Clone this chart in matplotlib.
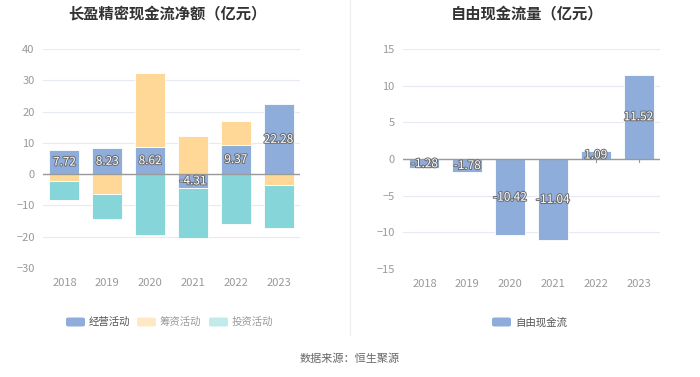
import numpy as np
import matplotlib.pyplot as plt
import matplotlib.patheffects as pe
from matplotlib.patches import FancyBboxPatch

plt.rcParams['font.family'] = ['Noto Sans CJK SC', 'DejaVu Sans']

years = ['2018', '2019', '2020', '2021', '2022', '2023']
operating = [7.72, 8.23, 8.62, -4.31, 9.37, 22.28]
financing = [-2.2, -6.5, 23.7, 12.3, 7.5, -3.4]
investing = [-6.1, -7.7, -19.4, -16.2, -16.0, -13.7]
free_cf = [-1.28, -1.78, -10.42, -11.04, 1.09, 11.52]

c_op = '#8EADDB'
c_fin = '#FFD898'
c_inv = '#86D5D8'
grid_c = '#E6EAF3'
tick_c = '#999999'

fig = plt.figure(figsize=(7, 3.77), dpi=100)
ax1 = fig.add_axes([43 / 700, 1 - 268 / 377, 257 / 700, 219 / 377])
ax2 = fig.add_axes([403 / 700, 1 - 269 / 377, 257 / 700, 220 / 377])

label_fx = [pe.withStroke(linewidth=1.4, foreground='#6A6A6A')]


def style(ax, ticks):
    ax.set_yticks(ticks)
    ax.set_ylim(ticks[0], ticks[-1])
    ax.set_xlim(-0.5, len(years) - 0.5)
    for t in ticks:
        ax.axhline(t, color=grid_c, lw=0.8, zorder=0)
    ax.axhline(0, color='#9A9A9A', lw=1.0, zorder=3)
    for s in ax.spines.values():
        s.set_visible(False)
    ax.tick_params(length=0, colors=tick_c, labelsize=8, pad=6)
    ax.set_xticks(range(len(years)))
    ax.set_xticklabels(years)
    ax.tick_params(axis='x', pad=7)
    for i in range(len(years)):
        ax.plot([i, i], [0, -0.012 * (ticks[-1] - ticks[0])], color='#9A9A9A', lw=0.8, zorder=1)


x = np.arange(len(years))
w = 0.7
pos_base = np.zeros(len(years))
neg_base = np.zeros(len(years))
for vals, col in [(operating, c_op), (financing, c_fin), (investing, c_inv)]:
    v = np.array(vals)
    bottom = np.where(v >= 0, pos_base, neg_base)
    ax1.bar(x, v, w, bottom=bottom, color=col, edgecolor='white', linewidth=0.6, zorder=2)
    pos_base = pos_base + np.where(v >= 0, v, 0)
    neg_base = neg_base + np.where(v < 0, v, 0)

for i, v in enumerate(operating):
    ax1.text(i, v / 2, f'{v:.2f}', ha='center', va='center', fontsize=8.5,
             color='white', path_effects=label_fx, zorder=5)
style(ax1, [-30, -20, -10, 0, 10, 20, 30, 40])

ax2.bar(x, free_cf, w, color=c_op, edgecolor='white', linewidth=0.6, zorder=2)
for i, v in enumerate(free_cf):
    ax2.text(i, v / 2, f'{v:.2f}', ha='center', va='center', fontsize=8.5,
             color='white', path_effects=label_fx, zorder=5)
style(ax2, [-15, -10, -5, 0, 5, 10, 15])

fig.text(167 / 700, 1 - 13 / 377, '长盈精密现金流净额（亿元）', ha='center', va='center',
         fontsize=11, fontweight='bold', color='#333333')
fig.text(527 / 700, 1 - 13 / 377, '自由现金流量（亿元）', ha='center', va='center',
         fontsize=11, fontweight='bold', color='#333333')

# separator
fig.add_artist(plt.Line2D([350 / 700, 350 / 700], [1 - 335 / 377, 1], color='#F0F0F0', lw=1))

# legends
legend_items = [(66, '经营活动', c_op, '#555555'), (137, '筹资活动', '#FFE8C4', '#999999'),
                (209, '投资活动', '#C0EAEC', '#999999'), (492, '自由现金流', c_op, '#555555')]
ly = 1 - 322 / 377
for px, txt, col, tcol in legend_items:
    fig.add_artist(FancyBboxPatch((px / 700, ly - 4.5 / 377), 19 / 700, 9 / 377,
                                  boxstyle='round,pad=0,rounding_size=0.004',
                                  transform=fig.transFigure, facecolor=col, edgecolor='none'))
    fig.text((px + 23) / 700, ly, txt, ha='left', va='center', fontsize=7.5, color=tcol)

fig.text(0.5, 1 - 359 / 377, '数据来源：恒生聚源', ha='center', va='center', fontsize=8, color='#666666')

fig.savefig('out.png', dpi=100)
